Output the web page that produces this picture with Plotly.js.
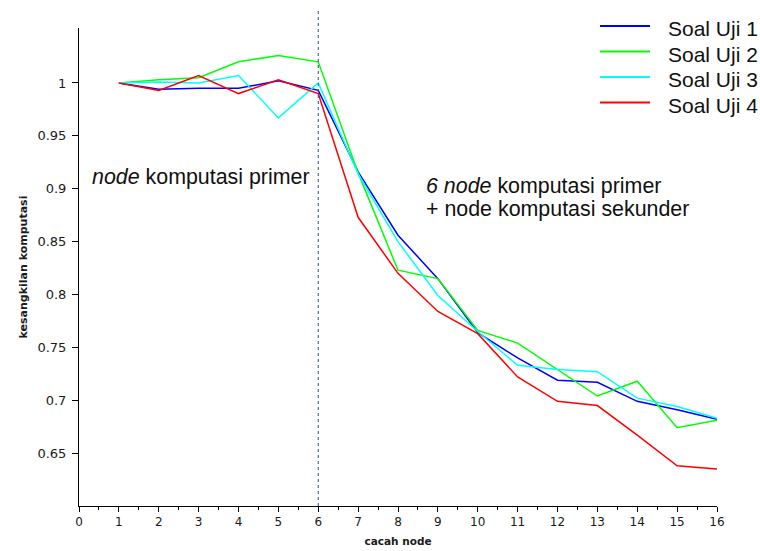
<!DOCTYPE html>
<html>
<head>
<meta charset="utf-8">
<script src="https://cdn.plot.ly/plotly-3.0.1.min.js"></script>
<style>
  html, body { margin: 0; padding: 0; background: #fff; }
  #chart { width: 760px; height: 551px; }
</style>
</head>
<body>
<div id="chart"></div>
<script>
// Jumlah node komputasi (sumbu x)
const cacahNode = [1, 2, 3, 4, 5, 6, 7, 8, 9, 10, 11, 12, 13, 14, 15, 16];

// Kesangkilan komputasi tiap soal uji
const soalUji1 = [1.000, 0.994, 0.995, 0.995, 1.002, 0.993, 0.916, 0.856, 0.815, 0.764, 0.740, 0.719, 0.717, 0.699, 0.691, 0.682];
const soalUji2 = [1.000, 1.003, 1.005, 1.020, 1.026, 1.020, 0.915, 0.823, 0.815, 0.766, 0.754, 0.729, 0.704, 0.718, 0.674, 0.681];
const soalUji3 = [1.000, 1.001, 1.000, 1.007, 0.967, 1.000, 0.914, 0.850, 0.799, 0.765, 0.733, 0.729, 0.727, 0.702, 0.694, 0.683];
const soalUji4 = [1.000, 0.993, 1.007, 0.990, 1.003, 0.990, 0.873, 0.820, 0.784, 0.763, 0.722, 0.699, 0.695, 0.667, 0.638, 0.635];

const seriesNames = ['Soal Uji 1', 'Soal Uji 2', 'Soal Uji 3', 'Soal Uji 4'];
const seriesColors = ['#0000ff', '#00ff00', '#00ffff', '#ff0000'];

// Sumbu
const xTicks = [0, 1, 2, 3, 4, 5, 6, 7, 8, 9, 10, 11, 12, 13, 14, 15, 16];
const yTicks = [0.65, 0.7, 0.75, 0.8, 0.85, 0.9, 0.95, 1];
const yTickText = ['0.65', '0.7', '0.75', '0.8', '0.85', '0.9', '0.95', '1'];
const batasPrimer = 6;

const W = 760, H = 551;
const M = { l: 79, r: 43, t: 28, b: 45 };
const plotW = W - M.l - M.r;
const plotH = H - M.t - M.b;
// pixel position -> paper coordinates
const px = (x) => (x - M.l) / plotW;
const py = (y) => (H - M.b - y) / plotH;

const allSeries = [soalUji1, soalUji2, soalUji3, soalUji4];
const traces = allSeries.map((ys, i) => ({
  type: 'scatter',
  mode: 'lines',
  x: cacahNode,
  y: ys,
  name: seriesNames[i],
  line: { color: seriesColors[i], width: 1.5 },
  showlegend: false,
  hoverinfo: 'skip'
}));

const tickFontX = { family: 'DejaVu Sans, sans-serif', size: 12, color: '#1a1a1a' };
const tickFontY = { family: 'DejaVu Sans, sans-serif', size: 13, color: '#1a1a1a' };
const titleFont = { family: 'DejaVu Sans, sans-serif', size: 10.5, color: '#1a1a1a' };
const textFont = { family: 'Liberation Sans, Arial, sans-serif', size: 21.4, color: '#111' };
const legendFont = { family: 'Liberation Sans, Arial, sans-serif', size: 21, color: '#111' };

// Legend drawn as short line samples with labels in the top-right corner
const legendShapes = [];
const legendNotes = [];
seriesNames.forEach((name, i) => {
  const rowY = 26 + 25.5 * i;
  legendShapes.push({
    type: 'line', xref: 'paper', yref: 'paper',
    x0: px(600), x1: px(650), y0: py(rowY), y1: py(rowY),
    line: { color: seriesColors[i], width: 2 }
  });
  legendNotes.push({
    xref: 'paper', yref: 'paper', x: px(666), y: py(rowY + 3),
    xanchor: 'left', yanchor: 'middle', showarrow: false,
    text: name, font: legendFont
  });
});

const layout = {
  width: W,
  height: H,
  margin: { l: M.l, r: M.r, t: M.t, b: M.b, autoexpand: false },
  paper_bgcolor: '#fff',
  plot_bgcolor: '#fff',
  showlegend: false,
  xaxis: {
    range: [0, 16],
    tickvals: xTicks,
    ticks: 'outside', ticklen: 5, tickwidth: 1, tickcolor: '#000',
    minor: { dtick: 0.5, ticks: 'outside', ticklen: 3, tickcolor: '#000', showgrid: false },
    showline: true, linecolor: '#000', linewidth: 1,
    showgrid: false, zeroline: false,
    tickfont: tickFontX,
    title: { text: '<b>cacah node</b>', font: titleFont, standoff: 9 }
  },
  yaxis: {
    range: [0.6, 1.052],
    tickvals: yTicks,
    ticktext: yTickText,
    ticks: 'outside', ticklen: 6, tickwidth: 1, tickcolor: '#000',
    ticklabelstandoff: 3,
    showline: true, linecolor: '#000', linewidth: 1,
    showgrid: false, zeroline: false,
    tickfont: tickFontY,
    title: { text: '<b>kesangkilan komputasi</b>', font: { family: 'DejaVu Sans, sans-serif', size: 11, color: '#1a1a1a' }, standoff: 7 }
  },
  shapes: [{
    type: 'line',
    xref: 'x', yref: 'paper',
    x0: batasPrimer, x1: batasPrimer,
    y0: 0, y1: py(10),
    line: { color: '#2a4a9a', width: 1, dash: 'dot' }
  }].concat(legendShapes),
  annotations: [
    { xref: 'x', yref: 'y', x: 0.28, y: 0.911, xanchor: 'left', yanchor: 'middle',
      text: '<i>node</i> komputasi primer', showarrow: false, font: textFont },
    { xref: 'x', yref: 'y', x: 8.66, y: 0.9026, xanchor: 'left', yanchor: 'middle',
      text: '<i>6 node</i> komputasi primer', showarrow: false, font: textFont },
    { xref: 'x', yref: 'y', x: 8.66, y: 0.8813, xanchor: 'left', yanchor: 'middle',
      text: '+ node komputasi sekunder', showarrow: false, font: textFont }
  ].concat(legendNotes)
};

Plotly.newPlot('chart', traces, layout, { staticPlot: true, displayModeBar: false });
</script>
</body>
</html>
